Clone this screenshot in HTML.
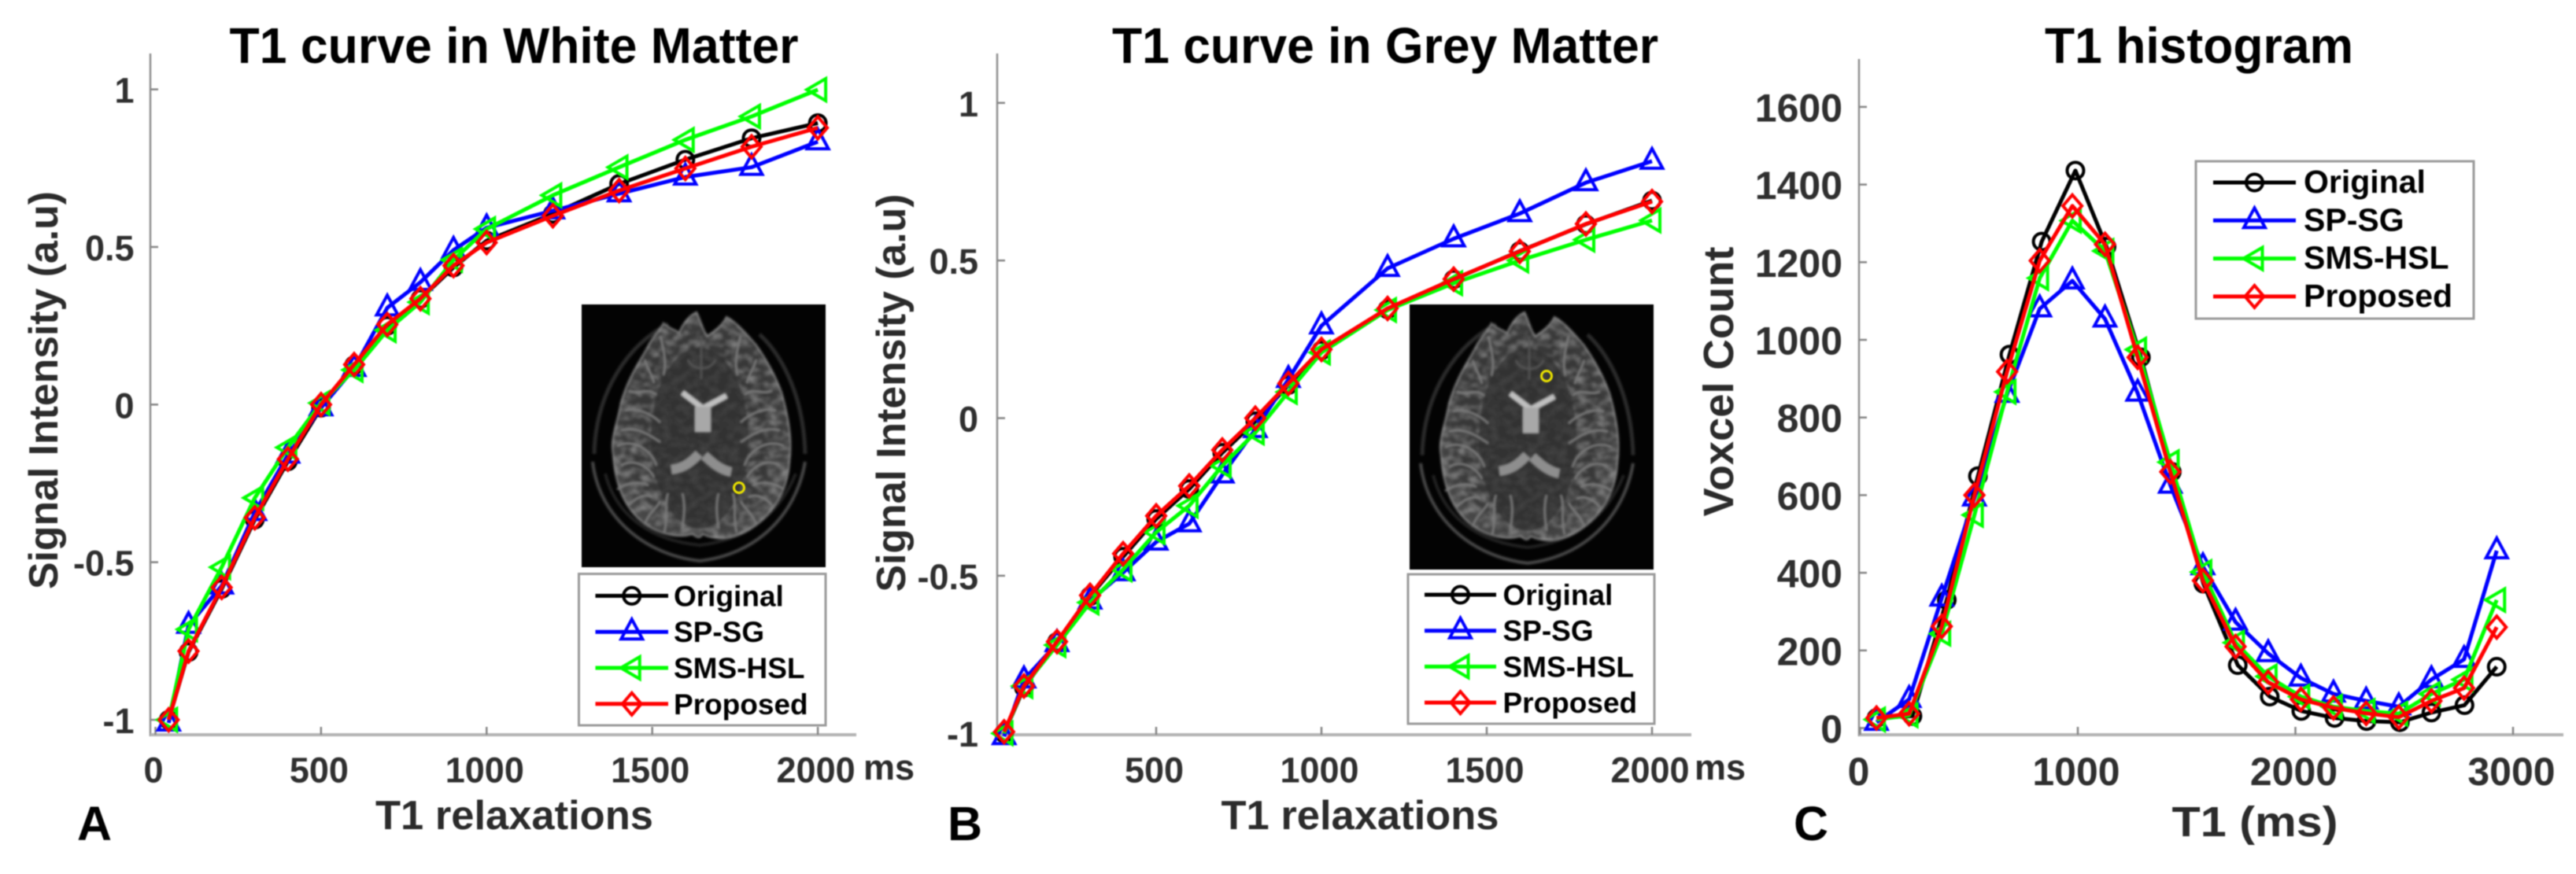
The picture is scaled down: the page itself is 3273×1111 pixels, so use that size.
<!DOCTYPE html>
<html lang="en">
<head>
<meta charset="utf-8">
<title>T1 curves and histogram</title>
<style>
html,body{margin:0;padding:0;background:#fff;width:3273px;height:1111px;overflow:hidden}
svg#fig{display:block;filter:blur(0.8px)}
text{font-family:"Liberation Sans",Arial,sans-serif;font-weight:bold}
</style>
</head>
<body>
<svg id="fig" xmlns="http://www.w3.org/2000/svg" width="3273" height="1111" viewBox="0 0 3273 1111">
<defs>
<radialGradient id="brainFill" cx="50%" cy="50%" r="55%">
<stop offset="0%" stop-color="#343434"/><stop offset="75%" stop-color="#383838"/><stop offset="100%" stop-color="#4c4c4c"/>
</radialGradient>
<filter id="soft" x="-5%" y="-5%" width="110%" height="110%"><feGaussianBlur stdDeviation="1.3"/></filter>
<filter id="mottle" x="0" y="0" width="100%" height="100%">
<feTurbulence type="fractalNoise" baseFrequency="0.08 0.11" numOctaves="2" seed="7"/>
<feColorMatrix type="matrix" values="0 0 0 0 0.85  0 0 0 0 0.85  0 0 0 0 0.85  1.6 0 0 0 -0.62"/>
<feGaussianBlur stdDeviation="0.7"/>
</filter>
<clipPath id="brainClip"><path d="M104,24 C110,30 118,32 124,36 C128,26 136,14 146,10 C152,22 154,34 160,40 C168,34 178,28 184,16 C196,22 210,38 222,52 C236,72 246,90 254,112 C262,140 268,170 264,200 C262,240 240,270 210,288 C190,298 170,300 154,292 C148,300 146,294 140,292 C120,298 90,290 70,270 C50,250 42,220 40,190 C36,170 46,150 50,125 C60,90 76,70 86,50 C92,40 100,32 104,24 Z"/></clipPath>
<symbol id="brainScan" viewBox="0 0 310 334" preserveAspectRatio="none">
<rect width="310" height="334" fill="#030303"/>
<g filter="url(#soft)">
<path d="M16,190 C18,110 60,50 110,25 M284,190 C282,110 250,60 226,38" fill="none" stroke="#2c2c2c" stroke-width="5"/>
<path d="M14,200 C22,270 80,318 150,326 C220,318 272,270 284,200" fill="none" stroke="#4a4a4a" stroke-width="4"/>
<path d="M30,215 C44,270 90,300 150,306 C205,300 250,270 272,215" fill="none" stroke="#222" stroke-width="4"/>
<path d="M104,24 C110,30 118,32 124,36 C128,26 136,14 146,10 C152,22 154,34 160,40 C168,34 178,28 184,16 C196,22 210,38 222,52 C236,72 246,90 254,112 C262,140 268,170 264,200 C262,240 240,270 210,288 C190,298 170,300 154,292 C148,300 146,294 140,292 C120,298 90,290 70,270 C50,250 42,220 40,190 C36,170 46,150 50,125 C60,90 76,70 86,50 C92,40 100,32 104,24 Z" fill="url(#brainFill)" stroke="#6e6e6e" stroke-width="2.5"/>
<g clip-path="url(#brainClip)">
<rect x="30" y="0" width="250" height="310" filter="url(#mottle)" opacity="0.55"/>
<ellipse cx="150" cy="170" rx="62" ry="115" fill="#323232" opacity="0.75"/>
</g>
<g fill="none" stroke="#7c7c7c" stroke-width="2.4">
<path d="M60,110 C75,115 85,105 95,115 M55,135 C70,130 90,140 100,150 M50,160 C70,155 85,165 100,175 M45,180 C65,170 90,185 95,205 M50,205 C65,195 85,205 92,220 M45,235 C60,225 75,225 85,230 M60,255 C70,245 80,240 90,245 M80,280 C85,265 95,260 100,250 M105,290 C110,270 105,250 110,240 M128,285 C130,270 132,255 128,240 M80,70 C85,85 90,90 92,100 M100,40 C105,60 108,75 104,90"/>
<path transform="translate(302,0) scale(-1,1)" d="M60,110 C75,115 85,105 95,115 M55,135 C70,130 90,140 100,150 M50,160 C70,155 85,165 100,175 M45,180 C65,170 90,185 95,205 M50,205 C65,195 85,205 92,220 M45,235 C60,225 75,225 85,230 M60,255 C70,245 80,240 90,245 M80,280 C85,265 95,260 100,250 M105,290 C110,270 105,250 110,240 M128,285 C130,270 132,255 128,240 M80,70 C85,85 90,90 92,100 M100,40 C105,60 108,75 104,90"/>
<path d="M152,40 L152,95 M135,70 C140,85 165,85 170,70" stroke="#555"/>
</g>
<path d="M128,112 L154,132 L184,116" fill="none" stroke="#c0c0c0" stroke-width="7"/>
<path d="M154,130 L154,162" fill="none" stroke="#a8a8a8" stroke-width="20"/>
<path d="M114,210 C130,208 140,200 149,190" fill="none" stroke="#8e8e8e" stroke-width="12"/>
<path d="M190,213 C175,210 165,200 156,192" fill="none" stroke="#8e8e8e" stroke-width="12"/>
</g>
</symbol>
</defs>

<text x="653" y="80" font-size="64" text-anchor="middle" textLength="723" lengthAdjust="spacingAndGlyphs" fill="#000">T1 curve in White Matter</text>
<text x="1760" y="80" font-size="64" text-anchor="middle" textLength="694" lengthAdjust="spacingAndGlyphs" fill="#000">T1 curve in Grey Matter</text>
<text x="2794" y="80" font-size="64" text-anchor="middle" textLength="392" lengthAdjust="spacingAndGlyphs" fill="#000">T1 histogram</text>

<text transform="translate(73,496) rotate(-90)" font-size="52" text-anchor="middle" textLength="506" lengthAdjust="spacingAndGlyphs" fill="#2b2b2b">Signal Intensity (a.u)</text>
<text transform="translate(1150,499.5) rotate(-90)" font-size="52" text-anchor="middle" textLength="506" lengthAdjust="spacingAndGlyphs" fill="#2b2b2b">Signal Intensity (a.u)</text>
<text transform="translate(2202,485) rotate(-90)" font-size="54" text-anchor="middle" textLength="343" lengthAdjust="spacingAndGlyphs" fill="#2b2b2b">Voxcel Count</text>

<text x="653.5" y="1054" font-size="52" text-anchor="middle" textLength="353" lengthAdjust="spacingAndGlyphs" fill="#2b2b2b">T1 relaxations</text>
<text x="1728" y="1054" font-size="52" text-anchor="middle" textLength="353" lengthAdjust="spacingAndGlyphs" fill="#2b2b2b">T1 relaxations</text>
<text x="2865" y="1063" font-size="54" text-anchor="middle" textLength="211" lengthAdjust="spacingAndGlyphs" fill="#2b2b2b">T1 (ms)</text>

<text x="1097" y="991" font-size="45" fill="#2b2b2b">ms</text>
<text x="2153" y="991" font-size="45" fill="#2b2b2b">ms</text>

<text x="98" y="1068" font-size="61" fill="#000">A</text>
<text x="1204" y="1068" font-size="61" fill="#000">B</text>
<text x="2279" y="1068" font-size="61" fill="#000">C</text>

<use href="#brainScan" x="739" y="387" width="310" height="334"/>
<circle cx="939" cy="620" r="6.5" fill="none" stroke="#e8e000" stroke-width="3"/>
<use href="#brainScan" x="1791" y="387" width="310" height="337"/>
<circle cx="1965" cy="478" r="6.5" fill="none" stroke="#e8e000" stroke-width="3"/>

<g id="plots"></g>
</svg>
<script>
// Panel A: T1 curve in white matter
const t1Times = [40,100,200,300,400,500,600,700,800,900,1000,1200,1400,1600,1800,2000];
const wmOriginal = [-1,-0.785,-0.585,-0.365,-0.18,-0.01,0.125,0.25,0.335,0.435,0.52,0.605,0.70,0.777,0.845,0.893];
const wmSpSg     = [-1.01,-0.70,-0.575,-0.342,-0.16,-0.01,0.115,0.307,0.388,0.49,0.561,0.615,0.669,0.722,0.753,0.834];
const wmSmsHsl   = [-1,-0.713,-0.516,-0.296,-0.136,0.005,0.11,0.236,0.325,0.459,0.557,0.664,0.753,0.84,0.914,0.999];
const wmProposed = [-1,-0.782,-0.58,-0.359,-0.173,0,0.127,0.254,0.336,0.441,0.514,0.599,0.679,0.749,0.818,0.878];

// Panel B: T1 curve in grey matter
const gmOriginal = [-1,-0.855,-0.71,-0.565,-0.44,-0.32,-0.225,-0.11,-0.01,0.105,0.215,0.345,0.44,0.53,0.615,0.69];
const gmSpSg     = [-1.01,-0.83,-0.715,-0.58,-0.49,-0.393,-0.335,-0.18,-0.036,0.123,0.293,0.475,0.569,0.649,0.747,0.815];
const gmSmsHsl   = [-1,-0.85,-0.72,-0.585,-0.48,-0.362,-0.278,-0.151,-0.046,0.083,0.208,0.343,0.428,0.50,0.566,0.627];
const gmProposed = [-0.995,-0.85,-0.709,-0.562,-0.43,-0.31,-0.215,-0.101,0,0.11,0.218,0.348,0.441,0.529,0.616,0.687];

// Panel C: T1 histogram
const histBins = [75,225,375,525,675,825,975,1125,1275,1425,1575,1725,1875,2025,2175,2325,2475,2625,2775,2925];
const histBinsOriginal = [75,240,398,541,686,834,989,1132,1290,1432,1577,1735,1882,2027,2180,2327,2480,2625,2777,2925];
const histOriginal = [26,31,330,649,962,1253,1436,1240,955,660,372,162,81,44,26,18,15,40,59,158];
const histSpSg     = [15,74,335,593,860,1080,1152,1054,863,626,416,273,192,129,88,70,55,125,177,457];
const histSmsHsl   = [22,33,243,549,866,1159,1307,1229,975,685,402,220,133,81,55,44,37,88,125,330];
const histProposed = [26,37,262,600,918,1204,1345,1246,955,660,380,210,118,74,52,38,28,70,103,260];

// Axis ticks
const wmXTicks = [0,500,1000,1500,2000];
const gmXTicks = [500,1000,1500,2000];
const signalYTicks = [-1,-0.5,0,0.5,1];
const histXTicks = [0,1000,2000,3000];
const histYTicks = [0,200,400,600,800,1000,1200,1400,1600];
const legendLabels = ['Original','SP-SG','SMS-HSL','Proposed'];

const seriesColors = ['#000000','#0000ff','#00ff00','#ff0000'];
const markerKinds = ['circle','triangle-up','triangle-left','diamond'];

const NS = 'http://www.w3.org/2000/svg';
const plots = document.getElementById('plots');

// Axis scale functions
function wmX(v){ return 197.5 + 0.4208 * v; }
function wmY(v){ return 514.3 - 400.7 * v; }
function gmX(v){ return 1259 + 0.42 * v; }
function gmY(v){ return 531.5 - 400.7 * v; }
function histX(v){ return 2363.5 + 0.2765 * v; }
function histY(v){ return 925.5 - 0.4935 * v; }

function make(tag, parent){
  const node = document.createElementNS(NS, tag);
  parent.appendChild(node);
  return node;
}

function markerShape(kind, parent, x, y, color){
  let m;
  if (kind === 'circle') {
    m = make('circle', parent);
    m.setAttribute('cx', x);
    m.setAttribute('cy', y);
    m.setAttribute('r', 10.5);
  } else {
    let pts;
    if (kind === 'triangle-up') pts = [[0,-16],[13.5,9],[-13.5,9]];
    else if (kind === 'triangle-left') pts = [[-14,0],[10,-14],[10,14]];
    else pts = [[0,-14],[12,0],[0,14],[-12,0]];
    m = make('polygon', parent);
    m.setAttribute('points', pts.map(p => (x + p[0]) + ',' + (y + p[1])).join(' '));
  }
  m.setAttribute('fill', 'none');
  m.setAttribute('stroke', color);
  m.setAttribute('stroke-width', 4);
  m.setAttribute('stroke-linejoin', 'miter');
  return m;
}

function drawSeries(prefix, index, xs, ys, sx, sy){
  const color = seriesColors[index];
  const label = legendLabels[index].toLowerCase();
  const g = make('g', plots);
  
  
  const line = make('polyline', g);
  
  
  line.setAttribute('points', xs.map((x, i) => sx(x) + ',' + sy(ys[i])).join(' '));
  line.setAttribute('fill', 'none');
  line.setAttribute('stroke', color);
  line.setAttribute('stroke-width', 5);
  line.setAttribute('stroke-linejoin', 'round');
  xs.forEach((x, i) => {
    const m = markerShape(markerKinds[index], g, sx(x), sy(ys[i]), color);
    
    
  });
}

function drawAxes(prefix, axisLeft, axisTop, axisRight, xTicks, yTicks, sx, sy, fontSize, yLabelRight, xLabelShift, xBaseline, yBaselineShift){
  const yAxis = make('line', plots);
  
  
  yAxis.setAttribute('x1', axisLeft);
  yAxis.setAttribute('x2', axisLeft);
  yAxis.setAttribute('y1', axisTop);
  yAxis.setAttribute('y2', 936);
  yAxis.setAttribute('stroke', '#8f8f8f');
  yAxis.setAttribute('stroke-width', 2.5);

  const xAxis = make('line', plots);
  
  
  xAxis.setAttribute('x1', axisLeft);
  xAxis.setAttribute('x2', axisRight);
  xAxis.setAttribute('y1', 934);
  xAxis.setAttribute('y2', 934);
  xAxis.setAttribute('stroke', '#b4b4b4');
  xAxis.setAttribute('stroke-width', 4);

  xTicks.forEach(v => {
    const t = make('line', plots);
    
    
    t.setAttribute('x1', sx(v));
    t.setAttribute('x2', sx(v));
    t.setAttribute('y1', 934);
    t.setAttribute('y2', 924);
    t.setAttribute('stroke', '#858585');
    t.setAttribute('stroke-width', 2.5);
    const lab = make('text', plots);
    
    
    lab.setAttribute('x', sx(v) + xLabelShift);
    lab.setAttribute('y', xBaseline);
    lab.setAttribute('font-size', fontSize);
    lab.setAttribute('text-anchor', 'middle');
    lab.setAttribute('fill', '#2f2f2f');
    lab.textContent = String(v);
  });

  yTicks.forEach(v => {
    const t = make('line', plots);
    
    
    t.setAttribute('x1', axisLeft);
    t.setAttribute('x2', axisLeft + 10);
    t.setAttribute('y1', sy(v));
    t.setAttribute('y2', sy(v));
    t.setAttribute('stroke', '#858585');
    t.setAttribute('stroke-width', 2.5);
    const lab = make('text', plots);
    
    
    lab.setAttribute('x', yLabelRight);
    lab.setAttribute('y', sy(v) + yBaselineShift);
    lab.setAttribute('font-size', fontSize);
    lab.setAttribute('text-anchor', 'end');
    lab.setAttribute('fill', '#2f2f2f');
    lab.textContent = String(v);
  });
}

function drawLegend(prefix, left, top, right, bottom, rowStart, rowStep, lineLeft, lineRight, textX, fontSize, baselineShift){
  const g = make('g', plots);
  
  
  const box = make('rect', g);
  
  
  box.setAttribute('x', left);
  box.setAttribute('y', top);
  box.setAttribute('width', right - left);
  box.setAttribute('height', bottom - top);
  box.setAttribute('fill', '#ffffff');
  box.setAttribute('stroke', '#9a9a9a');
  box.setAttribute('stroke-width', 3);
  legendLabels.forEach((name, i) => {
    const y = rowStart + rowStep * i;
    const ln = make('line', g);
    
    
    ln.setAttribute('x1', lineLeft);
    ln.setAttribute('x2', lineRight);
    ln.setAttribute('y1', y);
    ln.setAttribute('y2', y);
    ln.setAttribute('stroke', seriesColors[i]);
    ln.setAttribute('stroke-width', 5);
    const mk = markerShape(markerKinds[i], g, (lineLeft + lineRight) / 2, y, seriesColors[i]);
    
    
    const tx = make('text', g);
    
    
    tx.setAttribute('x', textX);
    tx.setAttribute('y', y + baselineShift);
    tx.setAttribute('font-size', fontSize);
    tx.setAttribute('fill', '#000000');
    tx.textContent = name;
  });
}

// Panel A
drawAxes('white-matter', 191, 68, 1088, wmXTicks, signalYTicks, wmX, wmY, 45, 170.5, -2.5, 994.5, 17);
[wmOriginal, wmSpSg, wmSmsHsl, wmProposed].forEach((ys, i) => drawSeries('white-matter', i, t1Times, ys, wmX, wmY));
drawLegend('white-matter', 735.5, 729.5, 1049, 922, 757.4, 45.8, 756.5, 849, 856, 37, 13);

// Panel B
drawAxes('grey-matter', 1267, 68, 2149, gmXTicks, signalYTicks, gmX, gmY, 45, 1243, -2.5, 994.5, 17);
[gmOriginal, gmSpSg, gmSmsHsl, gmProposed].forEach((ys, i) => drawSeries('grey-matter', i, t1Times, ys, gmX, gmY));
drawLegend('grey-matter', 1789, 730, 2102, 920, 756, 45.7, 1810, 1901, 1909.5, 37, 13);

// Panel C
drawAxes('histogram', 2362, 75, 3257, histXTicks, histYTicks, histX, histY, 50, 2341, -2, 998, 18.5);
drawSeries('histogram', 0, histBinsOriginal, histOriginal, histX, histY);
drawSeries('histogram', 1, histBins, histSpSg, histX, histY);
drawSeries('histogram', 2, histBins, histSmsHsl, histX, histY);
drawSeries('histogram', 3, histBins, histProposed, histX, histY);
drawLegend('histogram', 2790, 205, 3143, 405, 232, 48.3, 2812, 2917, 2927, 41, 13);
</script>
</body>
</html>
